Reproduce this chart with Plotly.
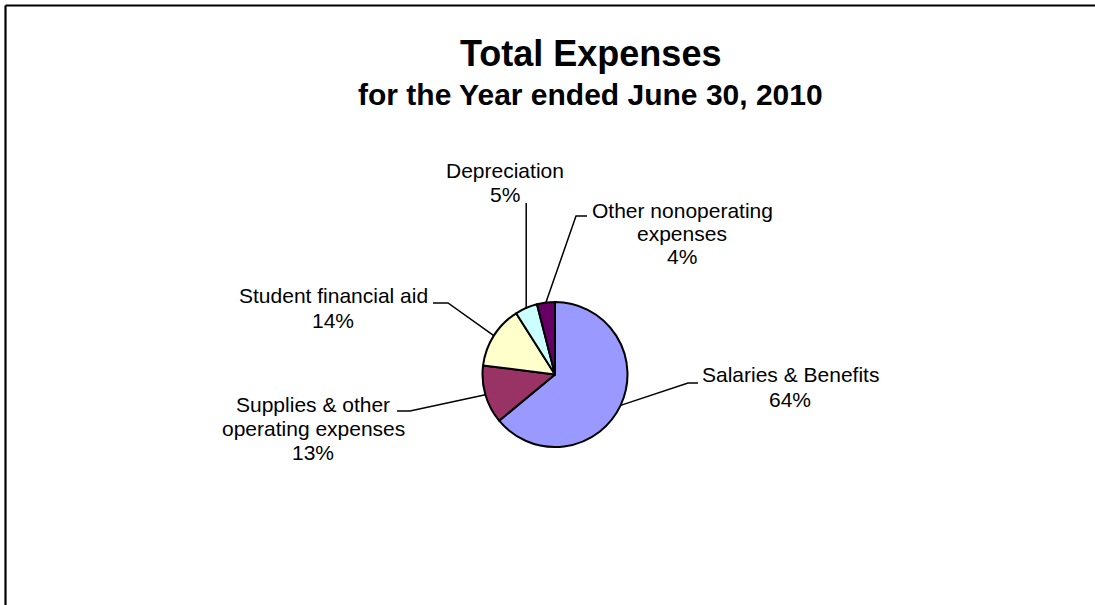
import math
import plotly.graph_objects as go

# Expense categories and their shares (percent of total expenses)
categories = [
    "Salaries & Benefits",
    "Supplies & other operating expenses",
    "Student financial aid",
    "Depreciation",
    "Other nonoperating expenses",
]
shares = [64, 13, 14, 5, 4]
label_lines = [
    ["Salaries & Benefits"],
    ["Supplies & other", "operating expenses"],
    ["Student financial aid"],
    ["Depreciation"],
    ["Other nonoperating", "expenses"],
]
colors = ["#9999FF", "#993366", "#FFFFCC", "#CCFFFF", "#660066"]

W, H = 1095, 605
FONT = "Liberation Sans, Arial, sans-serif"

# pie geometry (pixels)
CX, CY, R = 555, 374.5, 72.5

# label layout: leader elbow, leader end, text centre x, first baseline, line step
label_layout = [
    dict(elbow=(688, 383), end=(698, 383), cx=790, base=382, step=25),
    dict(elbow=(410, 411), end=(397, 411), cx=313, base=412, step=24),
    dict(elbow=(448, 303), end=(433, 303), cx=333, base=303, step=25),
    dict(elbow=None, end=(None, 203), cx=505, base=178, step=24),
    dict(elbow=(576, 216), end=(587, 216), cx=682, base=218, step=23),
]
LABEL_SIZE = 21

fig = go.Figure()

fig.add_trace(go.Pie(
    labels=categories,
    values=shares,
    sort=False,
    direction="clockwise",
    rotation=0,
    textinfo="none",
    hoverinfo="label+percent",
    marker=dict(colors=colors, line=dict(color="black", width=2)),
    showlegend=False,
    domain=dict(x=[(CX - R) / W, (CX + R) / W],
                y=[1 - (CY + R) / H, 1 - (CY - R) / H]),
))

# invisible pixel-space axes for leader lines and labels
fig.add_trace(go.Scatter(x=[0, W], y=[0, H], mode="markers",
                         marker=dict(opacity=0), hoverinfo="skip", showlegend=False))

shapes = []
annotations = []
total = sum(shares)
cum = 0.0
for name, val, lines, lay in zip(categories, shares, label_lines, label_layout):
    mid = (cum + val / 2) / total * 2 * math.pi
    cum += val
    px = CX + R * math.sin(mid)
    py = CY - R * math.cos(mid)
    if lay["elbow"] is None:
        ex, ey = px, lay["end"][1]
        path = f"M {px},{py} L {ex},{ey}"
    else:
        (bx, by), (ex, ey) = lay["elbow"], lay["end"]
        path = f"M {px},{py} L {bx},{by} L {ex},{ey}"
    shapes.append(dict(type="path", xref="x", yref="y", path=path,
                       line=dict(color="black", width=1.5)))
    pct = f"{round(val / total * 100)}%"
    for i, txt in enumerate(lines + [pct]):
        base = lay["base"] + i * lay["step"]
        annotations.append(dict(
            x=lay["cx"], y=base - 0.36 * LABEL_SIZE, xref="x", yref="y",
            text=txt, showarrow=False, xanchor="center", yanchor="middle",
            font=dict(family=FONT, size=LABEL_SIZE, color="black"),
        ))

# title lines
annotations.append(dict(x=590, y=66 - 0.36 * 36, xref="x", yref="y",
                        text="<b>Total Expenses</b>", showarrow=False,
                        xanchor="center", yanchor="middle",
                        font=dict(family=FONT, size=36, color="black")))
annotations.append(dict(x=590, y=105 - 0.36 * 30, xref="x", yref="y",
                        text="<b>for the Year ended June 30, 2010</b>", showarrow=False,
                        xanchor="center", yanchor="middle",
                        font=dict(family=FONT, size=30, color="black")))

# chart frame (top and left edges)
shapes.append(dict(type="line", xref="x", yref="y", x0=5.5, y0=5.5, x1=W, y1=5.5,
                   line=dict(color="black", width=2.2)))
shapes.append(dict(type="line", xref="x", yref="y", x0=5.5, y0=5.5, x1=5.5, y1=H,
                   line=dict(color="black", width=2.2)))

fig.update_layout(
    width=W, height=H,
    margin=dict(l=0, r=0, t=0, b=0),
    paper_bgcolor="white", plot_bgcolor="rgba(0,0,0,0)",
    xaxis=dict(range=[0, W], visible=False, fixedrange=True, domain=[0, 1]),
    yaxis=dict(range=[H, 0], visible=False, fixedrange=True, domain=[0, 1]),
    shapes=shapes,
    annotations=annotations,
)

fig.write_html("out.html", config={"displayModeBar": False})
